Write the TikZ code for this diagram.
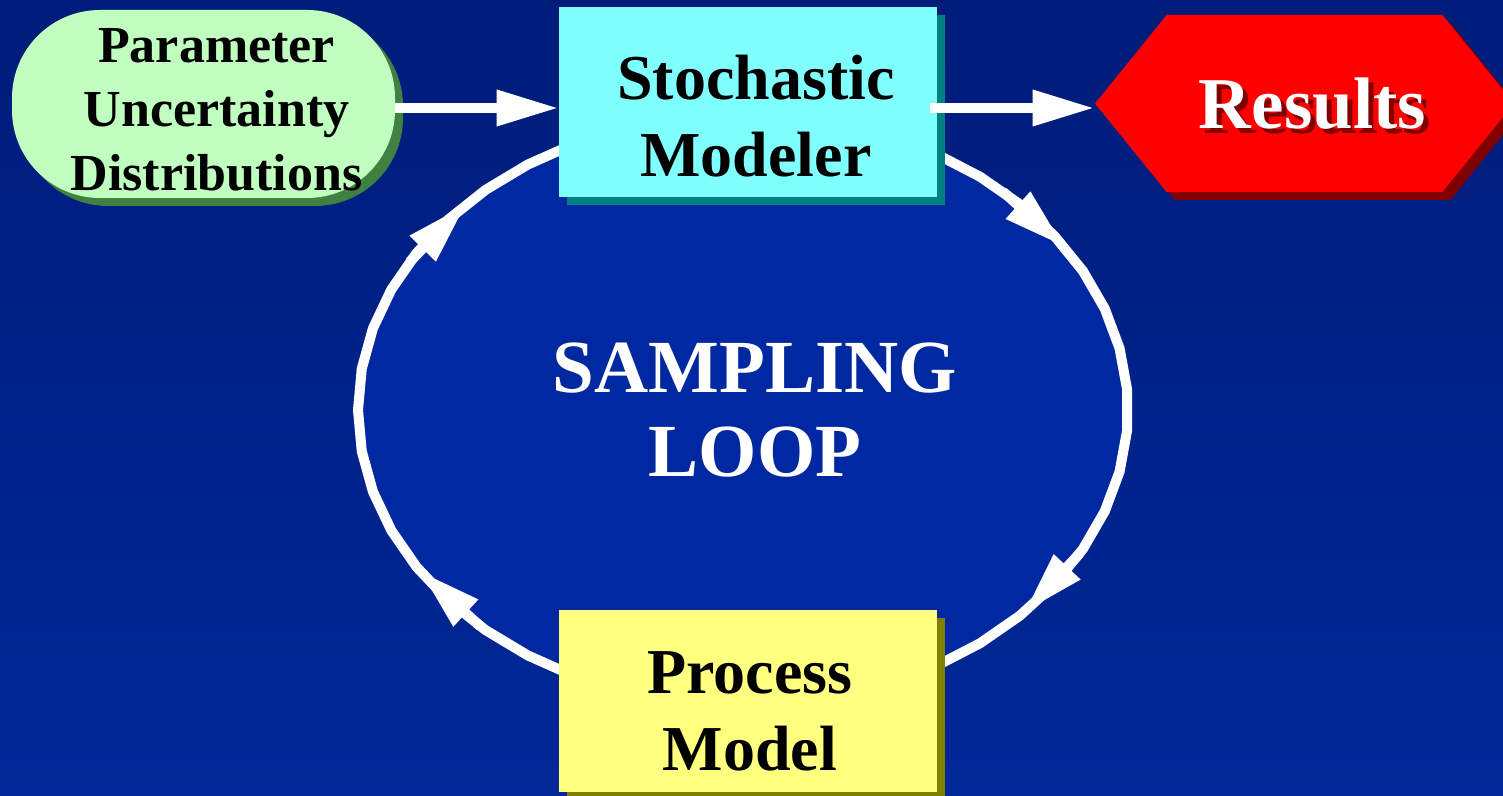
\documentclass[tikz,border=0pt]{standalone}
\usepackage{fontspec}
\setmainfont{Liberation Serif}
\usetikzlibrary{arrows.meta,shapes.symbols,shadows}
\definecolor{bgtop}{RGB}{0,28,122}
\definecolor{bgbot}{RGB}{0,40,152}
\definecolor{loopblue}{RGB}{0,40,160}
\definecolor{paramfill}{RGB}{192,255,192}
\definecolor{paramshadow}{RGB}{64,128,64}
\definecolor{stochfill}{RGB}{128,255,255}
\definecolor{stochshadow}{RGB}{0,128,128}
\definecolor{procfill}{RGB}{255,255,128}
\definecolor{procshadow}{RGB}{128,128,0}
\definecolor{resfill}{RGB}{255,0,0}
\definecolor{resshadow}{RGB}{128,0,0}
\newcommand{\shadowtxt}[2]{\rlap{\smash{\kern2.5pt\raisebox{-2.5pt}{\color{#1}#2}}}#2}

\begin{document}
\begin{tikzpicture}[x=0.5pt,y=-0.5pt,
    declare function={ex(\a)=743+385*cos(\a); ey(\a)=410-296*sin(\a);},
    >={Triangle[length=31pt,width=17pt]},
    flow/.style={->,white,line width=5pt},
    shadowed/.style={drop shadow={shadow xshift=4pt,shadow yshift=-4pt,fill=#1,opacity=1}},
    box/.style={rectangle,inner sep=0pt,minimum width=189pt},
    boxtext/.style={align=center,font=\bfseries\fontsize{32pt}{38.5pt}\selectfont}]
  \useasboundingbox (0,0) rectangle (1503,796);
  \clip (0,0) rectangle (1503,796);
  \shade[top color=bgtop,bottom color=bgbot] (0,0) rectangle (1503,796);
  % sampling loop
  \draw[white,line width=5pt,fill=loopblue] plot[domain=-4:348,samples=45] ({ex(\x)},{ey(\x)}) -- cycle;
  \foreach \ang in {33.5,-43,213,136}
    \draw[flow] ({ex(\ang+14)},{ey(\ang+14)}) -- ({ex(\ang)},{ey(\ang)});
  \node[text=white,align=center,font=\bfseries\fontsize{37.5pt}{42pt}\selectfont] (loop) at (755,410) {SAMPLING\\LOOP};
  % boxes
  \node[box,fill=stochfill,shadowed=stochshadow,minimum height=95pt,
    label={[boxtext,xshift=4pt,yshift=-7pt]center:Stochastic\\Modeler}] (stoch) at (748,102) {};
  \node[box,fill=procfill,shadowed=procshadow,minimum height=91pt,
    label={[boxtext,xshift=1pt,yshift=-5pt]center:Process\\Model}] (proc) at (748,701) {};
  \node[rectangle,rounded corners=44pt,inner sep=0pt,minimum width=191.5pt,minimum height=94pt,
    fill=paramfill,shadowed=paramshadow,
    label={[align=center,font=\bfseries\fontsize{26pt}{32pt}\selectfont,xshift=6.5pt,yshift=-3pt]center:Parameter\\Uncertainty\\Distributions}] (params) at (203.5,104) {};
  \node[signal,signal to=west and east,signal pointer angle=102,inner sep=0pt,
    minimum width=209.5pt,minimum height=88.5pt,fill=resfill,shadowed=resshadow,
    label={[text=white,font=\bfseries\fontsize{36.5pt}{44pt}\selectfont,xshift=4pt]center:\shadowtxt{resshadow}{Results}}] (results) at (1304.5,103.5) {};
  % straight arrows
  \coordinate (sw) at ([yshift=-3pt]stoch.west);
  \coordinate (se) at ([yshift=-3pt]stoch.east);
  \draw[flow] (sw -| params.east) -- (sw);
  \draw[flow] ([xshift=-3.5pt]se) -- (se -| results.west);
\end{tikzpicture}
\end{document}
